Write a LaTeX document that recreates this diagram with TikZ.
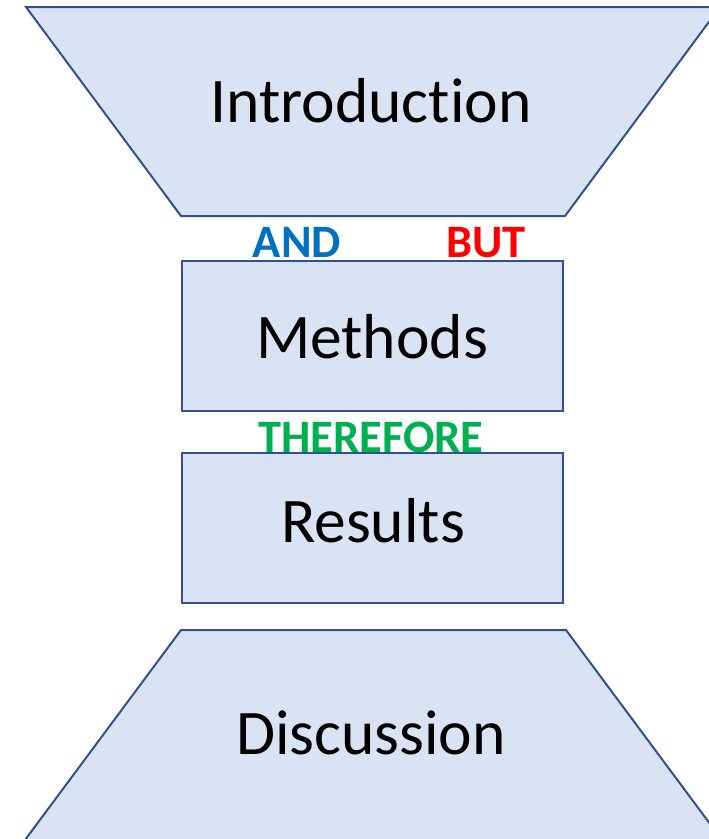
\documentclass[tikz,border=0pt]{standalone}
\usepackage{fontspec}
\setmainfont{Carlito}[Ligatures=NoCommon]
\definecolor{boxfill}{HTML}{DAE3F3}
\definecolor{boxline}{HTML}{2F528F}
\definecolor{andblue}{HTML}{0070C0}
\definecolor{butred}{HTML}{FF0000}
\definecolor{thgreen}{HTML}{00B050}
\tikzset{
  shapebox/.style={fill=boxfill, draw=boxline, line width=2pt, line join=miter},
  bigtext/.style={anchor=base, inner sep=0pt, font=\fontsize{63.5}{70}\selectfont},
  linktext/.style={anchor=base, inner sep=0pt, font=\fontsize{46.5}{50}\selectfont\bfseries},
}
\begin{document}
\begin{tikzpicture}[x=1pt,y=-1pt]
\useasboundingbox (0,0) rectangle (709,839);
\clip (0,0) rectangle (709,839);
% Introduction funnel
\draw[shapebox] (26,7) -- (720,7) -- (565,216) -- (181,216) -- cycle;
\node[bigtext] (intro) at (371,122) {Introduction};
% link words
\node[linktext, text=andblue] (and) at (297,257) {AND};
\node[linktext, text=butred] (but) at (486,257) {BUT};
% Methods
\draw[shapebox] (182,261) rectangle (563,411);
\node[bigtext] (methods) at (372,358) {Methods};
% Therefore
\node[linktext, text=thgreen] (therefore) at (371,452) {THEREFORE};
% Results
\draw[shapebox] (182,453) rectangle (563,603);
\node[bigtext] (results) at (373,542) {Results};
% Discussion funnel
\draw[shapebox] (181,630) -- (566,630) -- (722,840) -- (25,840) -- cycle;
\node[bigtext] (discussion) at (371,754) {Discussion};
\end{tikzpicture}
\end{document}
